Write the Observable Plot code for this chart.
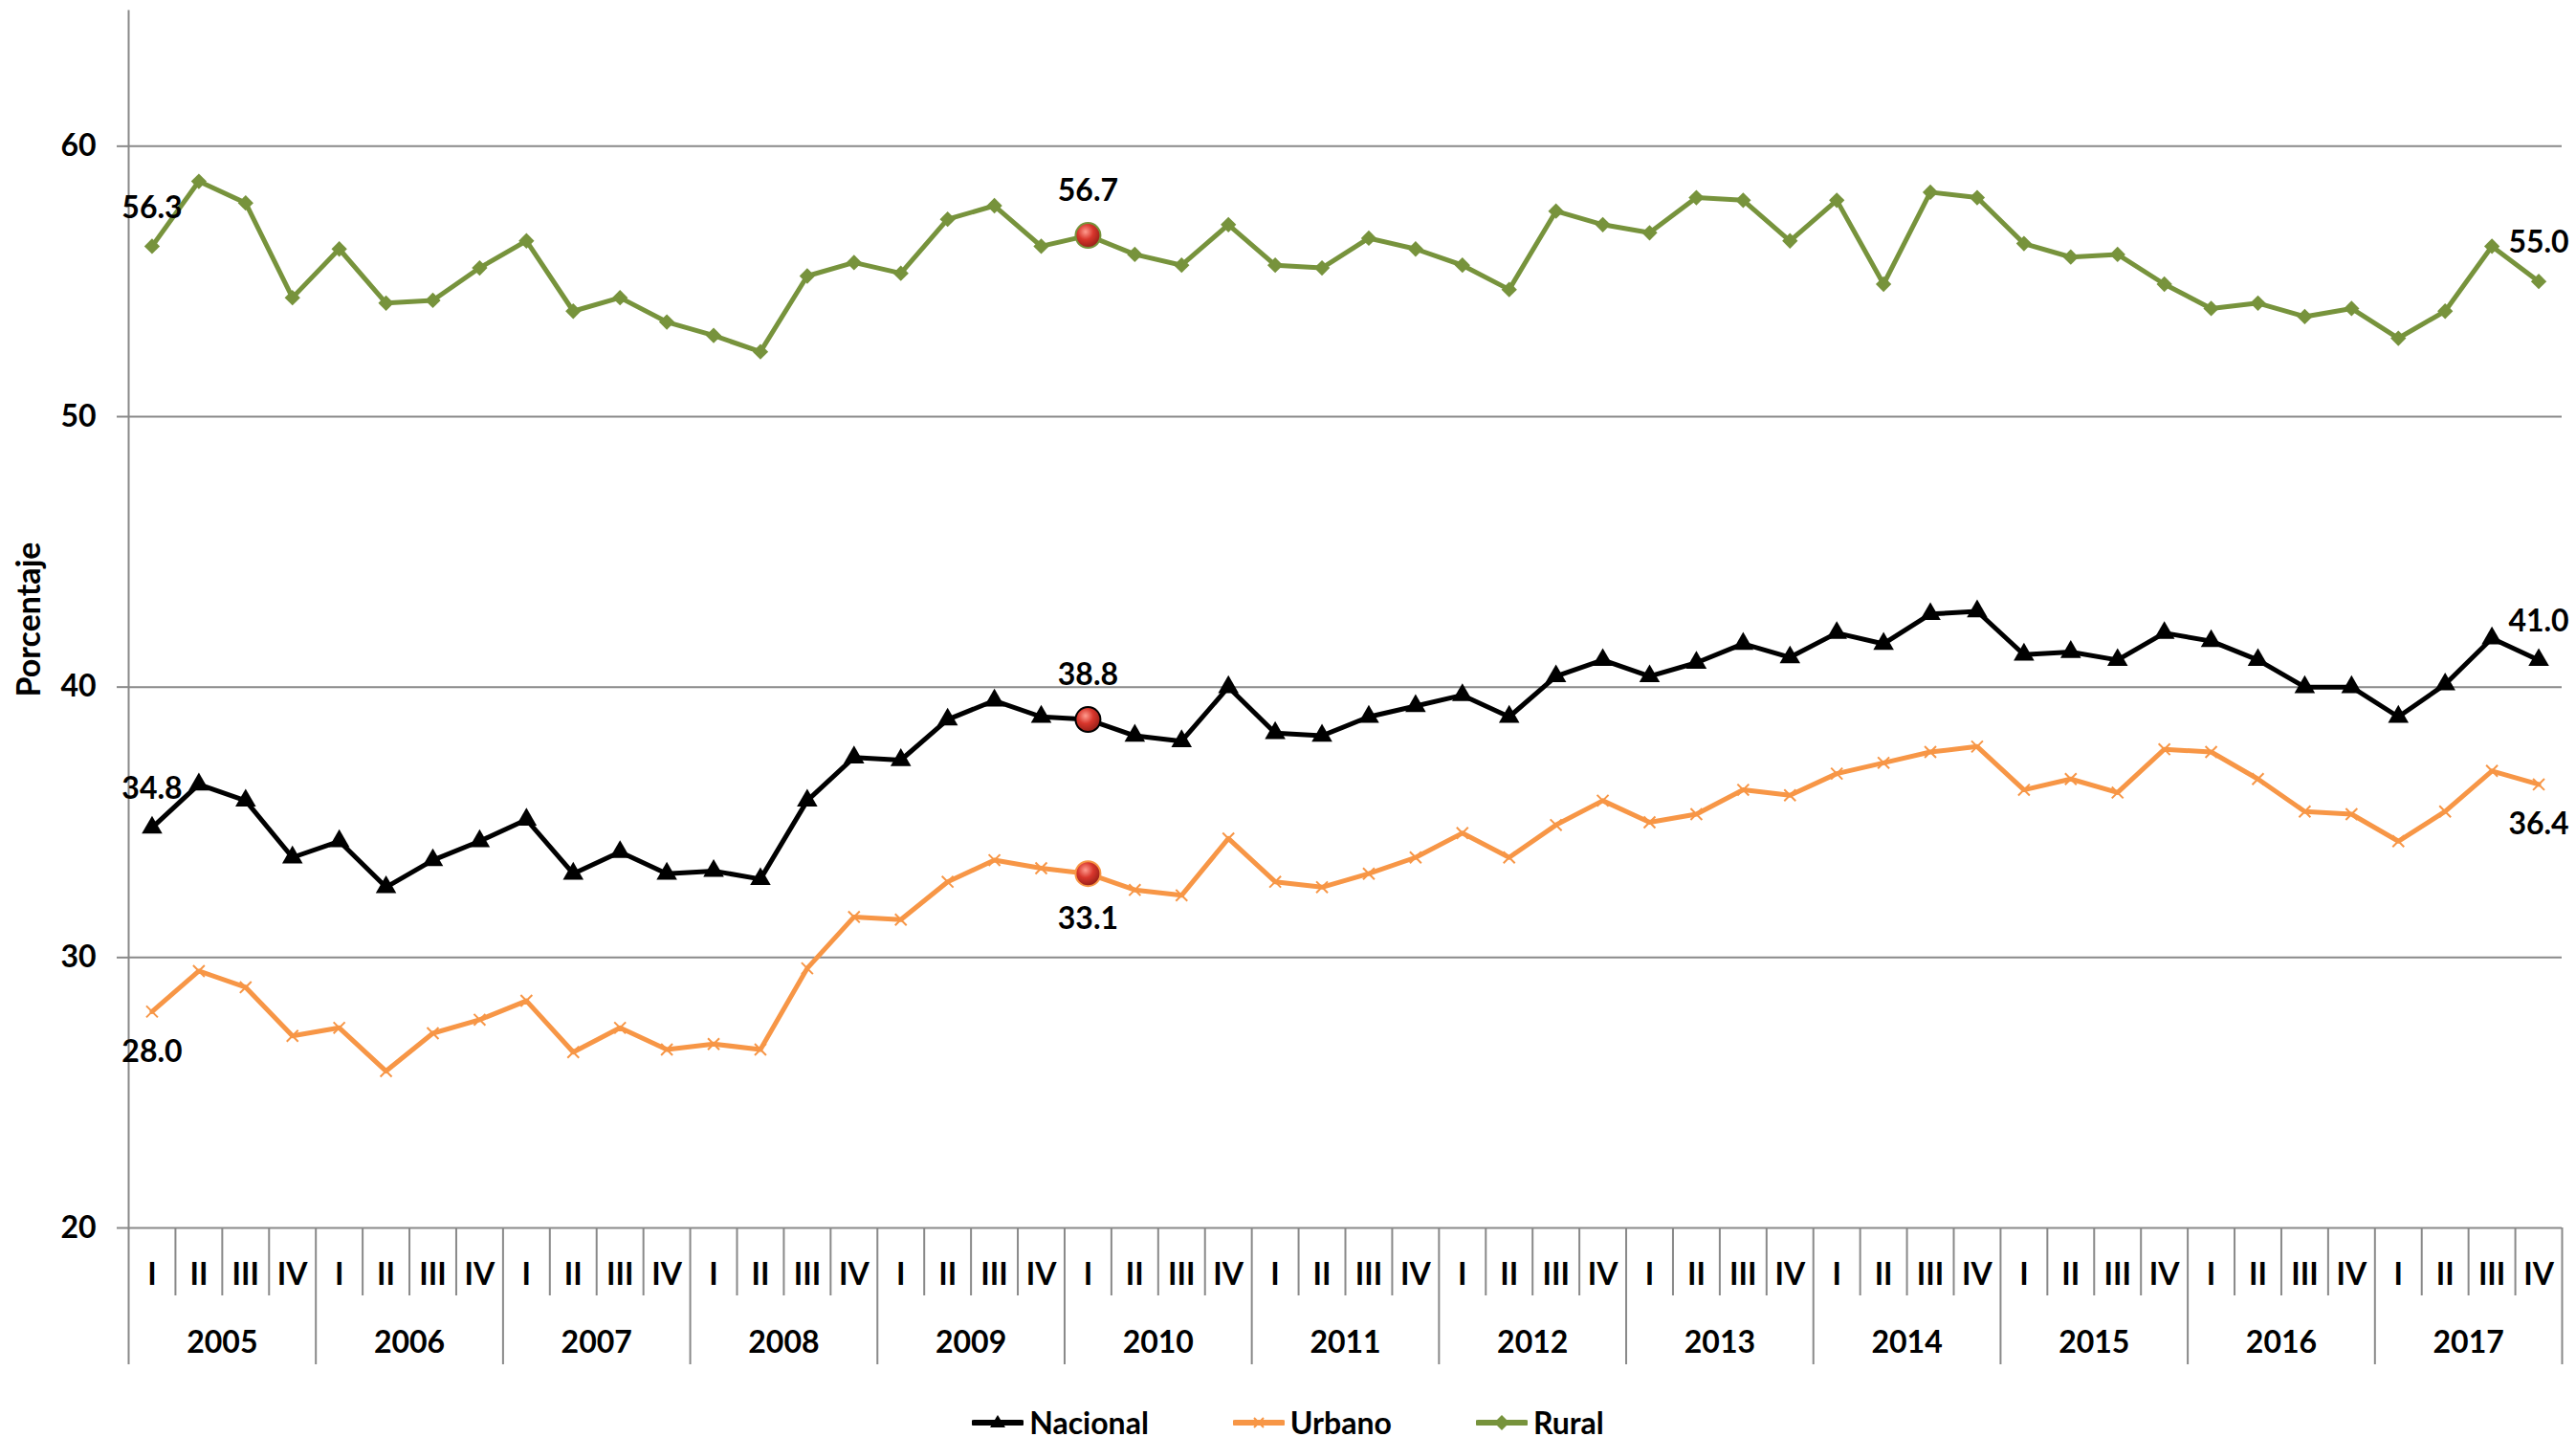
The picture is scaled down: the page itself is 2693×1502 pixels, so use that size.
<!DOCTYPE html>
<html><head><meta charset="utf-8">
<script src="https://cdn.jsdelivr.net/npm/d3@7"></script>
<script src="https://cdn.jsdelivr.net/npm/@observablehq/plot@0.6"></script>
<style>
body{margin:0;background:#fff;font-family:Lato,"Open Sans",sans-serif;}
#legend{display:flex;justify-content:center;align-items:center;gap:88px;height:40px;line-height:40px;font-size:32px;font-weight:bold;color:#000;margin-top:5px;}
.item{display:flex;align-items:center;gap:6px;}
.item svg{display:block;}
</style></head><body>
<div id="chart"></div><div id="legend"></div>
<script>
const years = [2005,2006,2007,2008,2009,2010,2011,2012,2013,2014,2015,2016,2017];
const quarters = ["I","II","III","IV"];
const series = ["Nacional","Urbano","Rural"];
const colors = ["#000000","#F79646","#77933C"];
const nacional = [34.8,36.4,35.8,33.7,34.3,32.6,33.6,34.3,35.1,33.1,33.9,33.1,33.2,32.9,
  35.8,37.4,37.3,38.8,39.5,38.9,38.8,38.2,38.0,40.0,38.3,38.2,38.9,39.3,
  39.7,38.9,40.4,41.0,40.4,40.9,41.6,41.1,42.0,41.6,42.7,42.8,41.2,41.3,
  41.0,42.0,41.7,41.0,40.0,40.0,38.9,40.1,41.8,41.0];
const urbano = [28.0,29.5,28.9,27.1,27.4,25.8,27.2,27.7,28.4,26.5,27.4,26.6,26.8,26.6,
  29.6,31.5,31.4,32.8,33.6,33.3,33.1,32.5,32.3,34.4,32.8,32.6,33.1,33.7,
  34.6,33.7,34.9,35.8,35.0,35.3,36.2,36.0,36.8,37.2,37.6,37.8,36.2,36.6,
  36.1,37.7,37.6,36.6,35.4,35.3,34.3,35.4,36.9,36.4];
const rural = [56.3,58.7,57.9,54.4,56.2,54.2,54.3,55.5,56.5,53.9,54.4,53.5,53.0,52.4,
  55.2,55.7,55.3,57.3,57.8,56.3,56.7,56.0,55.6,57.1,55.6,55.5,56.6,56.2,
  55.6,54.7,57.6,57.1,56.8,58.1,58.0,56.5,58.0,54.9,58.3,58.1,56.4,55.9,
  56.0,54.9,54.0,54.2,53.7,54.0,52.9,53.9,56.3,55.0];
const yTicks = [20,30,40,50,60];
const highlightIndex = 20;   // 2010 I
const endIndices = [0, 51];

const values = {Nacional: nacional, Urbano: urbano, Rural: rural};
const rows = [];
for (const s of series) values[s].forEach((v, i) => rows.push({i, serie: s, value: v}));
const n = nacional.length;
const idx = d3.range(n);
const bounds = d3.range(n + 1).map(k => k - 0.5);
const yearBounds = bounds.filter((b, k) => k % 4 === 0);
const quarterBounds = bounds.filter((b, k) => k % 4 !== 0);
const yearCenters = years.map((y, k) => k * 4 + 1.5);

const endAbove = rows.filter(d => endIndices.includes(d.i) && d.serie !== "Urbano");
const endBelow = rows.filter(d => endIndices.includes(d.i) && d.serie === "Urbano");
const hlRows = rows.filter(d => d.i === highlightIndex);
const hlAbove = hlRows.filter(d => d.serie !== "Urbano");
const hlBelow = hlRows.filter(d => d.serie === "Urbano");

const ff = "Lato, 'Open Sans', sans-serif";
const font = {fontFamily: ff, fontSize: 32, fontWeight: "bold"};
const grid = "#898989";
const fmt = d => d3.format(".1f")(d.value);

const chart = Plot.plot({
  width: 2693, height: 1462,
  marginLeft: 134, marginRight: 15, marginTop: 11, marginBottom: 179,
  style: {fontFamily: ff, fontSize: "32px", fontWeight: "bold", background: "#fff"},
  x: {type: "linear", domain: [-0.5, n - 0.5]},
  y: {domain: [20, 65]},
  color: {domain: series, range: colors},
  marks: [
    Plot.ruleY(yTicks, {stroke: grid, strokeWidth: 2}),
    Plot.frame({anchor: "left", stroke: grid, strokeWidth: 2}),
    Plot.axisY({ticks: yTicks, tickSize: 12, tickPadding: 22, stroke: grid, strokeWidth: 2, fill: "black", label: null, ...font}),
    Plot.axisX({ticks: quarterBounds, tickSize: 71, tickFormat: () => "", stroke: grid, strokeWidth: 2, label: null}),
    Plot.axisX({ticks: yearBounds, tickSize: 143, tickFormat: () => "", stroke: grid, strokeWidth: 2, label: null}),
    Plot.axisX({ticks: idx, tickSize: 0, tickPadding: 37, tickFormat: d => quarters[Math.round(d) % 4], fill: "black", label: null, ...font}),
    Plot.axisX({ticks: yearCenters, tickSize: 0, tickPadding: 108, tickFormat: d => String(years[Math.round((d - 1.5) / 4)]), fill: "black", label: null, ...font}),
    Plot.text(["Porcentaje"], {frameAnchor: "left", textAnchor: "middle", lineAnchor: "middle", rotate: -90, dx: -103, fill: "black", fontFamily: ff, fontSize: 34, fontWeight: "bold"}),
    Plot.line(rows, {x: "i", y: "value", z: "serie", stroke: "serie", strokeWidth: 5, strokeLinejoin: "round"}),
    Plot.dot(rows.filter(d => d.serie === "Nacional"), {x: "i", y: "value", symbol: "triangle", r: 8, fill: "#000"}),
    Plot.dot(rows.filter(d => d.serie === "Urbano"), {x: "i", y: "value", symbol: "times", r: 5.5, stroke: "#F79646", strokeWidth: 2}),
    Plot.dot(rows.filter(d => d.serie === "Rural"), {x: "i", y: "value", symbol: "square", rotate: 45, r: 6.5, fill: "#77933C"}),
    Plot.dot(hlRows, {x: "i", y: "value", r: 13, fill: "url(#ball)", stroke: "serie", strokeWidth: 2}),
    Plot.text(endAbove, {x: "i", y: "value", text: fmt, dy: -40, fill: "black", ...font}),
    Plot.text(endBelow, {x: "i", y: "value", text: fmt, dy: 42, fill: "black", ...font}),
    Plot.text(hlAbove, {x: "i", y: "value", text: fmt, dy: -46, fill: "black", ...font}),
    Plot.text(hlBelow, {x: "i", y: "value", text: fmt, dy: 48, fill: "black", ...font})
  ]
});

document.getElementById("chart").appendChild(chart);

const ns = "http://www.w3.org/2000/svg";
const defs = document.createElementNS(ns, "defs");
const grad = document.createElementNS(ns, "radialGradient");
grad.setAttribute("id", "ball"); grad.setAttribute("cx", "40%"); grad.setAttribute("cy", "35%"); grad.setAttribute("r", "70%");
[["0", "#ff9c8f"], ["0.45", "#d8362c"], ["1", "#8e1c15"]].forEach(([o, c]) => {
  const st = document.createElementNS(ns, "stop");
  st.setAttribute("offset", o); st.setAttribute("stop-color", c); grad.appendChild(st);
});
defs.appendChild(grad);
chart.insertBefore(defs, chart.firstChild);

// legend
const legend = document.getElementById("legend");
const symbolSvg = {
  Nacional: `<path d="M27,6 L35,19 L19,19 Z" fill="#000"/>`,
  Urbano: `<path d="M22,9 L32,19 M32,9 L22,19" stroke="#F79646" stroke-width="2"/>`,
  Rural: `<path d="M27,6 L35,14 L27,22 L19,14 Z" fill="#77933C"/>`
};
series.forEach((s, k) => {
  const it = document.createElement("div");
  it.className = "item";
  it.innerHTML = `<svg width="54" height="28"><line x1="2" y1="14" x2="52" y2="14" stroke="${colors[k]}" stroke-width="6" stroke-linecap="round"/>${symbolSvg[s]}</svg><span>${s}</span>`;
  legend.appendChild(it);
});
</script>
</body></html>
